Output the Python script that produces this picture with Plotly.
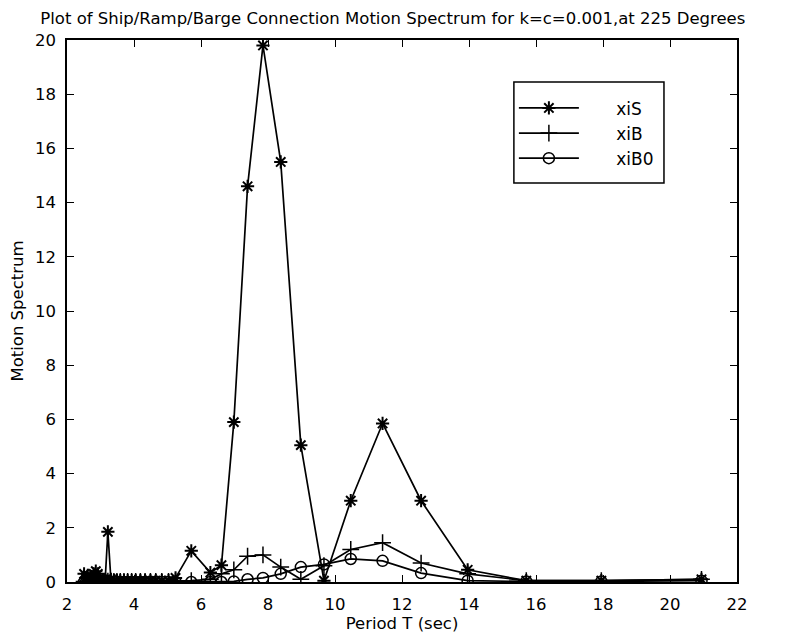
import plotly.graph_objects as go

# Period T (sec)
period = [2.51, 2.57, 2.62, 2.68, 2.73, 2.80, 2.86, 2.92, 2.99, 3.07, 3.14, 3.22,
          3.31, 3.40, 3.49, 3.59, 3.70, 3.81, 3.93, 4.05, 4.19, 4.33, 4.49, 4.65,
          4.83, 5.03, 5.24, 5.71, 6.28, 6.61, 6.98, 7.39, 7.85, 8.38, 8.98, 9.67,
          10.47, 11.42, 12.57, 13.96, 15.71, 17.95, 20.94]

xiS = [0.30, 0.15, 0.25, 0.10, 0.20, 0.30, 0.40, 0.30, 0.10, 0.05, 0.10, 1.85,
       0.10, 0.05, 0.05, 0.05, 0.05, 0.05, 0.05, 0.05, 0.05, 0.05, 0.05, 0.05,
       0.05, 0.05, 0.15, 1.15, 0.35, 0.62, 5.90, 14.60, 19.80, 15.50, 5.05, 0.05,
       3.00, 5.85, 3.00, 0.45, 0.05, 0.05, 0.10]

xiB = [0.02, 0.02, 0.02, 0.02, 0.02, 0.02, 0.02, 0.02, 0.02, 0.02, 0.02, 0.03,
       0.02, 0.02, 0.02, 0.02, 0.02, 0.02, 0.02, 0.02, 0.02, 0.02, 0.02, 0.02,
       0.02, 0.02, 0.03, 0.05, 0.10, 0.30, 0.45, 0.95, 1.00, 0.55, 0.10, 0.60,
       1.20, 1.45, 0.70, 0.30, 0.05, 0.05, 0.10]

xiB0 = [0.0, 0.0, 0.0, 0.0, 0.0, 0.0, 0.0, 0.0, 0.0, 0.0, 0.0, 0.0,
        0.0, 0.0, 0.0, 0.0, 0.0, 0.0, 0.0, 0.0, 0.0, 0.0, 0.0, 0.0,
        0.0, 0.0, 0.0, 0.0, 0.0, 0.0, 0.02, 0.10, 0.15, 0.30, 0.55, 0.65,
        0.85, 0.78, 0.33, 0.05, 0.02, 0.02, 0.05]

x_ticks = [2, 4, 6, 8, 10, 12, 14, 16, 18, 20, 22]
y_ticks = [0, 2, 4, 6, 8, 10, 12, 14, 16, 18, 20]

pad = "\u00a0" * 6
font_family = "DejaVu Sans, Liberation Sans, Arial, sans-serif"

fig = go.Figure()
fig.add_trace(go.Scatter(x=period, y=xiS, mode="lines+markers", name=pad + "xiS",
                         line=dict(color="black", width=1.7),
                         marker=dict(symbol="asterisk-open", size=11,
                                     line=dict(color="black", width=2))))
fig.add_trace(go.Scatter(x=period, y=xiB, mode="lines+markers", name=pad + "xiB",
                         line=dict(color="black", width=1.7),
                         marker=dict(symbol="cross-thin-open", size=12,
                                     line=dict(color="black", width=1.5))))
fig.add_trace(go.Scatter(x=period, y=xiB0, mode="lines+markers", name=pad + "xiB0",
                         line=dict(color="black", width=1.7),
                         marker=dict(symbol="circle-open", size=11,
                                     line=dict(color="black", width=1.5))))

# legend frame
fig.add_shape(type="rect", xref="paper", yref="paper",
              x0=0.667, x1=0.891, y0=0.736, y1=0.9225,
              line=dict(color="black", width=1.5), fillcolor="rgba(0,0,0,0)",
              layer="above")

fig.update_layout(
    width=787, height=640,
    margin=dict(l=59, r=58, t=32, b=66),
    paper_bgcolor="white", plot_bgcolor="white",
    font=dict(family=font_family, color="black", size=16),
    title=dict(text="Plot of Ship/Ramp/Barge Connection Motion Spectrum for k=c=0.001,at 225 Degrees",
               x=0.489, xref="container", xanchor="center",
               y=1 - 10 / 640, yref="container", yanchor="middle",
               font=dict(size=16.5, family=font_family)),
    showlegend=True,
    legend=dict(x=0.667, y=0.907, xanchor="left", yanchor="top",
                bgcolor="rgba(0,0,0,0)", borderwidth=0,
                font=dict(size=17, family=font_family), itemwidth=60,
                tracegroupgap=0),
    xaxis=dict(range=[2, 22], tickvals=x_ticks, ticks="inside", ticklen=7,
               showgrid=False, zeroline=False, showline=True, linecolor="black",
               linewidth=1.5, mirror="ticks", tickcolor="black", automargin=False,
               ticklabelstandoff=6,
               title=dict(text="Period T (sec)", standoff=4, font=dict(size=16.5)),
               tickfont=dict(size=16.5)),
    yaxis=dict(range=[0, 20], tickvals=y_ticks, ticks="inside", ticklen=7,
               showgrid=False, zeroline=False, showline=True, linecolor="black",
               linewidth=1.5, mirror="ticks", tickcolor="black", automargin=False,
               ticklabelstandoff=6,
               title=dict(text="Motion Spectrum", standoff=10, font=dict(size=16.5)),
               tickfont=dict(size=16.5)),
)

fig.write_html("out.html")
